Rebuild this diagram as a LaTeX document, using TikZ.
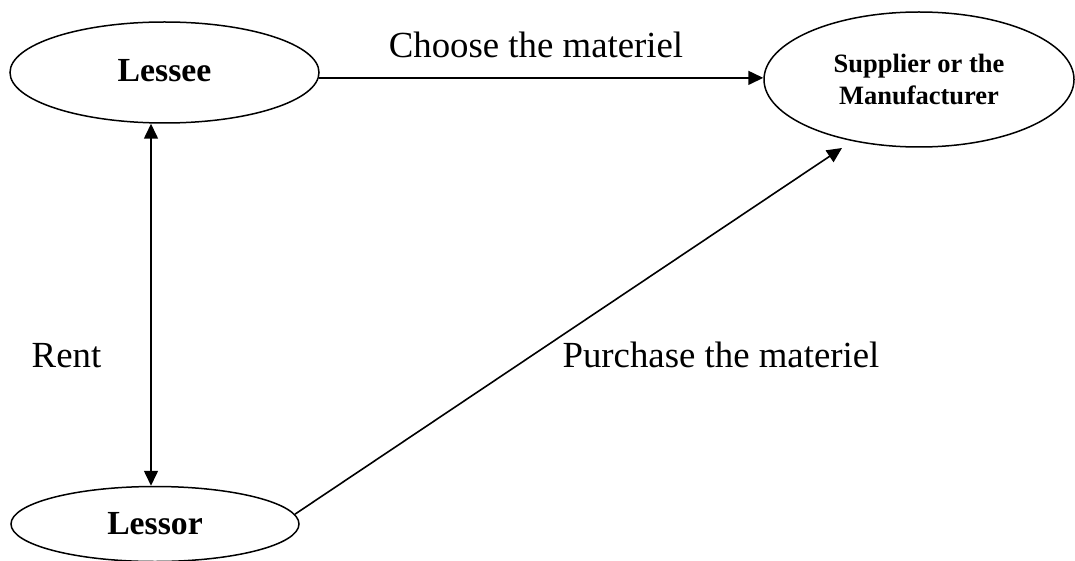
\documentclass[tikz,border=0pt]{standalone}
\usepackage{fontspec}
\setmainfont{Liberation Serif}
\usetikzlibrary{shapes.geometric,arrows.meta}

\tikzset{
  party/.style={ellipse, draw, line width=1.5pt, inner sep=0pt,
    font=\bfseries\fontsize{33.7}{38}\selectfont},
  flowlabel/.style={anchor=base, inner sep=0pt,
    font=\fontsize{36.8}{40}\selectfont},
  flow/.style={line width=1.6pt, -{Triangle[length=15pt,width=14pt]}},
  twoway/.style={line width=1.6pt,
    {Triangle[length=15pt,width=14pt]}-{Triangle[length=15pt,width=14pt]}}
}

\begin{document}
\begin{tikzpicture}[x=1pt, y=-1pt]
  \useasboundingbox (0,0) rectangle (1075,561);

  % the three parties of the lease
  \node[party, minimum width=309pt, minimum height=101pt] (lessee) at (164.5,72.5)
    {\raisebox{4pt}{Lessee}};
  \node[party, minimum width=310pt, minimum height=135pt, align=center,
        font=\bfseries\fontsize{26.5}{32}\selectfont] (supplier) at (919,79.5)
    {Supplier or the\\Manufacturer};
  \node[party, minimum width=288pt, minimum height=75pt] (lessor) at (155,524)
    {\raisebox{-5pt}{Lessor}};

  % free ends of the connectors
  \coordinate (rentline) at (151,300);
  \coordinate (buyend) at (842,148);

  % connectors
  \draw[flow] (lessee.-2) -- (lessee.-2 -| supplier.west);
  \draw[twoway] (lessee.south -| rentline) -- (lessor.north -| rentline);
  \draw[flow] (lessor.4) -- (buyend);

  % connector labels
  \node[flowlabel] (choose) at (536,58) {Choose the materiel};
  \node[flowlabel] (rent) at (66.5,367) {Rent};
  \node[flowlabel] (purchase) at (721,367) {Purchase the materiel};
\end{tikzpicture}
\end{document}
